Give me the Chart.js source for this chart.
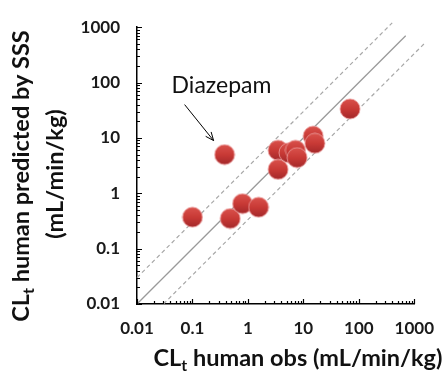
<!DOCTYPE html>
<html>
<head>
<meta charset="utf-8">
<script src="https://cdn.jsdelivr.net/npm/chart.js@4.4.1/dist/chart.umd.min.js"></script>
<style>
  html, body { margin: 0; padding: 0; background: #fff; }
  #wrap { width: 448px; height: 376px; position: relative; }
</style>
</head>
<body>
<div id="wrap"><canvas id="chart"></canvas></div>
<script>
// Observed vs SSS-predicted human clearance (mL/min/kg), log-log
var obsValues  = [0.1, 0.38, 0.48, 0.80, 1.56, 3.5, 3.5, 5.5, 7.2, 7.7, 15.0, 16.1, 69.5];
var predValues = [0.37, 5.0, 0.35, 0.65, 0.56, 6.0, 2.7, 5.4, 6.0, 4.4, 10.8, 8.0, 33.4];
var tickValues = [0.01, 0.1, 1, 10, 100, 1000];
var tickLabels = ['0.01', '0.1', '1', '10', '100', '1000'];
var unityX = [0.01, 700];   // y = x
var upperX = [0.01, 400];   // y = 3x
var lowerX = [0.03, 1500];  // y = x / 3
var foldFactor = 3;
var calloutName = 'Diazepam';
var calloutIndex = 1;

var xTitle = [['CL', false], ['t', true], [' human obs (mL/min/kg)', false]];
var yTitle1 = [['CL', false], ['t', true], [' human predicted by SSS', false]];
var yTitle2 = [['(mL/min/kg)', false]];

var FONT = 'Lato, "Open Sans", sans-serif';

(function() {
  'use strict';

  // red shaded ball used as point marker
  function makeBall(r) {
    var c = document.createElement('canvas');
    c.width = c.height = r * 2 + 2;
    var g = c.getContext('2d');
    var cx = r + 1;
    var grad = g.createLinearGradient(0, 1, 0, 2 * r + 1);
    grad.addColorStop(0, '#d9524c');
    grad.addColorStop(0.5, '#c93a36');
    grad.addColorStop(1, '#a3282a');
    g.beginPath();
    g.arc(cx, cx, r, 0, Math.PI * 2);
    g.fillStyle = grad;
    g.fill();
    g.lineWidth = 1;
    g.strokeStyle = 'rgba(236,160,160,0.8)';
    g.stroke();
    return c;
  }

  function line(xs, factor) {
    return xs.map(function(v) { return { x: v, y: v * factor }; });
  }

  function drawRich(ctx, parts, x, y, rot, size) {
    ctx.save();
    ctx.translate(x, y);
    if (rot) ctx.rotate(rot);
    var total = 0, widths = [];
    parts.forEach(function(p) {
      ctx.font = 'bold ' + (p[1] ? Math.round(size * 0.68) : size) + 'px ' + FONT;
      var w = ctx.measureText(p[0]).width;
      widths.push(w);
      total += w;
    });
    var cur = -total / 2;
    ctx.fillStyle = '#111';
    ctx.textBaseline = 'alphabetic';
    ctx.textAlign = 'left';
    parts.forEach(function(p, i) {
      ctx.font = 'bold ' + (p[1] ? Math.round(size * 0.68) : size) + 'px ' + FONT;
      ctx.fillText(p[0], cur, p[1] ? 5 : 0);
      cur += widths[i];
    });
    ctx.restore();
  }

  // inside log tick marks, axis titles and callout
  var decor = {
    id: 'decor',
    afterDraw: function(chart) {
      var ctx = chart.ctx;
      var xs = chart.scales.x, ys = chart.scales.y;
      var area = chart.chartArea;
      ctx.save();
      ctx.strokeStyle = '#000';
      ctx.lineWidth = 1.2;
      ctx.beginPath();
      for (var k = -2; k <= 3; k++) {
        for (var m = 1; m <= 9; m++) {
          var v = m * Math.pow(10, k);
          if (v > 1000.0001) continue;
          var len = m === 1 ? 5 : 3;
          var px = Math.round(xs.getPixelForValue(v)) + 0.5;
          ctx.moveTo(px, area.bottom);
          ctx.lineTo(px, area.bottom - len);
          var py = Math.round(ys.getPixelForValue(v)) + 0.5;
          ctx.moveTo(area.left, py);
          ctx.lineTo(area.left + len, py);
        }
      }
      ctx.stroke();

      // callout
      var cx = xs.getPixelForValue(obsValues[calloutIndex]);
      var cy = ys.getPixelForValue(predValues[calloutIndex]);
      ctx.fillStyle = '#111';
      ctx.font = '23px ' + FONT;
      ctx.textAlign = 'left';
      ctx.textBaseline = 'alphabetic';
      ctx.fillText(calloutName, cx - 53, cy - 62);
      var x1 = cx - 40, y1 = cy - 50, x2 = cx - 11, y2 = cy - 14;
      var ang = Math.atan2(y2 - y1, x2 - x1);
      ctx.lineWidth = 1;
      ctx.beginPath();
      ctx.moveTo(x1, y1);
      ctx.lineTo(x2, y2);
      ctx.moveTo(x2, y2);
      ctx.lineTo(x2 - 9 * Math.cos(ang - 0.4), y2 - 9 * Math.sin(ang - 0.4));
      ctx.moveTo(x2, y2);
      ctx.lineTo(x2 - 9 * Math.cos(ang + 0.4), y2 - 9 * Math.sin(ang + 0.4));
      ctx.stroke();
      ctx.restore();

      drawRich(ctx, xTitle, 298, 366, 0, 23.5);
      drawRich(ctx, yTitle1, 29, 176, -Math.PI / 2, 23.5);
      drawRich(ctx, yTitle2, 63, 174, -Math.PI / 2, 23.5);
    }
  };

  var points = obsValues.map(function(v, i) { return { x: v, y: predValues[i] }; });

  var tickFont = { family: FONT, size: 17, weight: 'bold' };

  new Chart(document.getElementById('chart'), {
    type: 'scatter',
    data: {
      datasets: [
        {
          data: points,
          pointStyle: makeBall(10),
          pointRadius: 10
        },
        {
          data: line(unityX, 1),
          showLine: true,
          borderColor: '#9a9a9a',
          borderWidth: 1.3,
          pointRadius: 0
        },
        {
          data: line(upperX, foldFactor),
          showLine: true,
          borderColor: '#a8a8a8',
          borderWidth: 1.2,
          borderDash: [4, 3],
          pointRadius: 0,
          clip: false
        },
        {
          data: line(lowerX, 1 / foldFactor),
          showLine: true,
          borderColor: '#a8a8a8',
          borderWidth: 1.2,
          borderDash: [4, 3],
          pointRadius: 0,
          clip: false
        }
      ]
    },
    options: {
      responsive: true,
      maintainAspectRatio: false,
      animation: false,
      events: [],
      layout: { padding: { left: 0, right: 23, top: 16, bottom: 0 } },
      plugins: { legend: { display: false }, tooltip: { enabled: false } },
      scales: {
        x: {
          type: 'logarithmic',
          min: 0.01,
          max: 1000,
          grid: { display: false, drawTicks: false, tickLength: 0 },
          border: { display: true, color: '#000', width: 1.5 },
          afterBuildTicks: function(s) {
            s.ticks = tickValues.map(function(v) { return { value: v }; });
          },
          afterFit: function(s) { s.height = 72; },
          ticks: {
            autoSkip: false,
            maxRotation: 0,
            padding: 14,
            color: '#1a1a1a',
            font: tickFont,
            callback: function(v) { return tickLabels[tickValues.indexOf(v)]; }
          }
        },
        y: {
          type: 'logarithmic',
          min: 0.01,
          max: 1000,
          grid: { display: false, drawTicks: false, tickLength: 0 },
          border: { display: true, color: '#000', width: 1.5 },
          afterBuildTicks: function(s) {
            s.ticks = tickValues.map(function(v) { return { value: v }; });
          },
          afterFit: function(s) { s.width = 137; },
          ticks: {
            autoSkip: false,
            padding: 17,
            color: '#1a1a1a',
            font: tickFont,
            callback: function(v) { return tickLabels[tickValues.indexOf(v)]; }
          }
        }
      }
    },
    plugins: [decor]
  });
})();
</script>
</body>
</html>
